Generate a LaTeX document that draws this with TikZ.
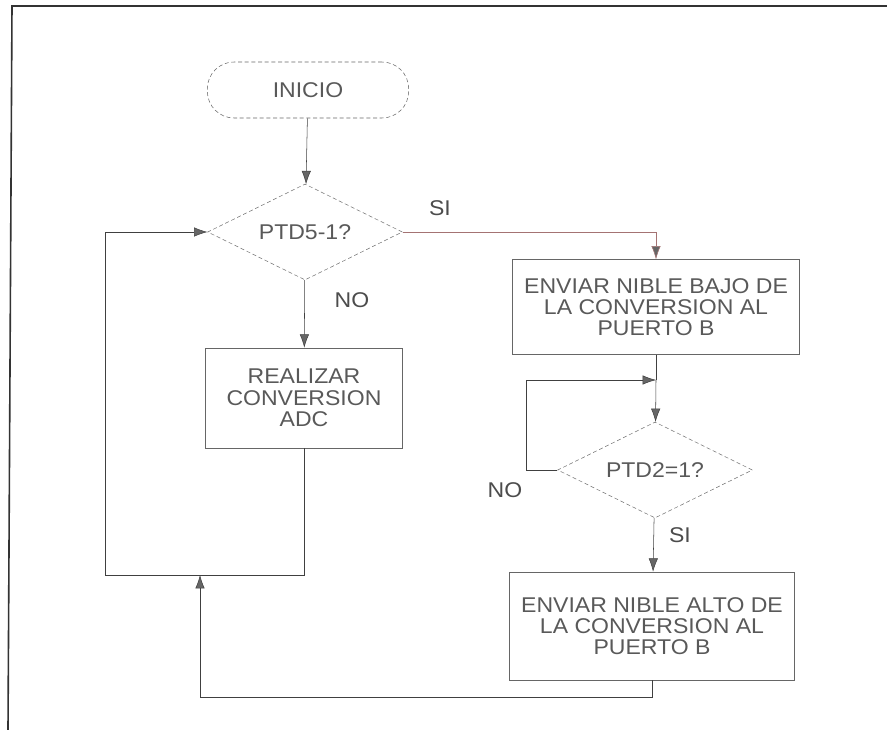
\documentclass[tikz,border=0pt]{standalone}
\usepackage{fontspec}
\setmainfont[FakeStretch=1.08]{Liberation Sans}
\usepackage{tikz}
\usetikzlibrary{arrows.meta,shapes.geometric,positioning,calc}
\tikzstyle{term}=[draw=black!60, densely dashed, rounded corners=20pt, minimum width=151pt, minimum height=42pt, text=black!65]
\tikzstyle{dec}=[diamond, aspect=2, inner sep=0pt, draw=black!55, densely dashed, minimum width=146pt, minimum height=72pt, text=black!65]
\tikzstyle{proc}=[rectangle, draw=black!60, align=center, inner sep=2pt, text=black!65]
\tikzstyle{lab}=[text=black!70]
\tikzstyle{arr}=[draw=black!75, -{Latex[length=10pt,width=7pt,fill=black!60]}]

\begin{document}
\begin{tikzpicture}[x=0.75pt, y=-0.75pt, font=\fontsize{16}{16}\selectfont]
      \useasboundingbox (0,0) rectangle (887,730);
      % frame of the page
      \draw[line width=1.2pt, black!80] (887,6) -- (12,6) -- (8,730);
      %
      \node at (308,90) [term] (inicio) {INICIO};
      \node at (305,232) [dec] (ptd5) {PTD5-1?};
      \node at (304,398) [proc, minimum width=148pt, minimum height=75pt] (adc) {REALIZAR\\CONVERSION\\ADC};
      \node at (656,307) [proc, minimum width=215pt, minimum height=71pt] (bajo) {ENVIAR NIBLE BAJO DE\\LA CONVERSION AL\\PUERTO B};
      \node at (655,470) [dec] (ptd2) {PTD2=1?};
      \node at (652,626) [proc, minimum width=214pt, minimum height=81pt] (alto) {ENVIAR NIBLE ALTO DE\\LA CONVERSION AL\\PUERTO B};
      %
      \coordinate (j2) at (656,380);
      \coordinate (nl) at (526,470);
      \coordinate (cl) at (105,575);
      \coordinate (cm) at (200,575);
      \coordinate (cb) at (200,697);
      %
      \draw[arr] (inicio) -- (ptd5);
      \draw[arr] (ptd5) -- (adc);
      \draw[arr, draw=red!35!black!55] (ptd5.east) -| (bajo.north);
      \draw[draw=black!75] (bajo.south) -- (j2);
      \draw[arr] (j2) -- (ptd2);
      \draw[arr] (ptd2.west) -- (nl) |- (j2);
      \draw[arr] (ptd2) -- (alto);
      \draw[arr] (adc.south) |- (cl) |- (ptd5.west);
      \draw[arr] (alto.south) |- (cb) -- (cm);
      %
      \node at (440,208) [lab] {SI};
      \node at (352,300) [lab] {NO};
      \node at (505,490) [lab] {NO};
      \node at (680,535) [lab] {SI};
\end{tikzpicture}
\end{document}
